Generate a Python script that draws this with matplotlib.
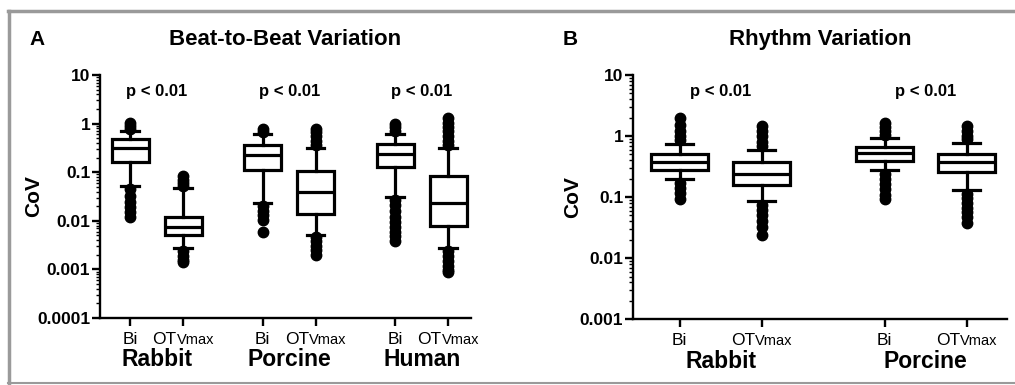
import matplotlib
matplotlib.use("Agg")
import matplotlib.pyplot as plt
from matplotlib.ticker import LogLocator, NullFormatter, FixedLocator, FixedFormatter
from matplotlib.lines import Line2D

plt.rcParams['font.family'] = ['Liberation Sans', 'DejaVu Sans']

# ---- Panel A: Beat-to-Beat Variation (Rabbit, Porcine, Human; Bi vs OTVmax)
a_species = ["Rabbit", "Porcine", "Human"]
a_pos = [0, 1, 2.5, 3.5, 5, 6]
a_med = [0.31, 0.0075, 0.23, 0.039, 0.24, 0.023]
a_q1 = [0.16, 0.0052, 0.11, 0.014, 0.127, 0.0079]
a_q3 = [0.49, 0.012, 0.37, 0.105, 0.39, 0.083]
a_whislo = [0.051, 0.0027, 0.023, 0.0052, 0.031, 0.0028]
a_whishi = [0.69, 0.047, 0.62, 0.32, 0.62, 0.31]
a_fliers = [
    [0.045, 0.033, 0.025, 0.019, 0.015, 0.012, 0.78, 0.9, 1.05],
    [0.0024, 0.0019, 0.0016, 0.00145, 0.052, 0.06, 0.07, 0.082],
    [0.02, 0.016, 0.013, 0.0105, 0.006, 0.68, 0.79],
    [0.0046, 0.0038, 0.0031, 0.0025, 0.002, 0.36, 0.45, 0.56, 0.68, 0.79],
    [0.027, 0.021, 0.016, 0.012, 0.0095, 0.0075, 0.006, 0.0048, 0.0039, 0.7, 0.85, 1.0],
    [0.0024, 0.0019, 0.0015, 0.0012, 0.00098, 0.00087, 0.36, 0.45, 0.56, 0.7, 0.87, 1.05, 1.33],
]

# ---- Panel B: Rhythm Variation (Rabbit, Porcine; Bi vs OTVmax)
b_species = ["Rabbit", "Porcine"]
b_pos = [0, 1, 2.5, 3.5]
b_med = [0.375, 0.238, 0.53, 0.375]
b_q1 = [0.277, 0.157, 0.39, 0.257]
b_q3 = [0.51, 0.375, 0.66, 0.51]
b_whislo = [0.197, 0.086, 0.277, 0.13]
b_whishi = [0.74, 0.59, 0.93, 0.77]
b_fliers = [
    [0.17, 0.14, 0.115, 0.093, 0.85, 1.0, 1.2, 1.5, 1.97],
    [0.075, 0.062, 0.05, 0.04, 0.032, 0.024, 0.68, 0.8, 1.0, 1.2, 1.46],
    [0.24, 0.2, 0.165, 0.135, 0.11, 0.093, 1.05, 1.2, 1.4, 1.65],
    [0.112, 0.095, 0.08, 0.067, 0.056, 0.047, 0.037, 0.88, 1.0, 1.2, 1.46],
]

tick_names = ["Bi", "OT"]


def make_stats(med, q1, q3, lo, hi, fliers):
    return [dict(med=m, q1=a, q3=b, whislo=l, whishi=h, fliers=f)
            for m, a, b, l, h, f in zip(med, q1, q3, lo, hi, fliers)]


def draw_panel(ax, stats, pos, species, ylim, title, letter, letter_x, xright, ylab_x):
    ax.bxp(stats, positions=pos, widths=0.7, patch_artist=True, showcaps=True,
           boxprops=dict(facecolor='white', edgecolor='black', linewidth=2.3),
           medianprops=dict(color='black', linewidth=2.3),
           whiskerprops=dict(color='black', linewidth=2.3),
           capprops=dict(color='black', linewidth=2.3),
           capwidths=0.33,
           flierprops=dict(marker='o', markerfacecolor='black', markeredgecolor='black',
                           markersize=7.5, linestyle='none'))
    ax.set_yscale('log')
    ax.set_ylim(*ylim)
    ax.set_xlim(pos[0] - 0.57, xright)
    for s in ['top', 'right']:
        ax.spines[s].set_visible(False)
    for s in ['left', 'bottom']:
        ax.spines[s].set_linewidth(1.7)
    decades = []
    v = ylim[0]
    while v <= ylim[1] * 1.01:
        decades.append(v)
        v *= 10
    ax.yaxis.set_major_locator(FixedLocator(decades))
    ax.yaxis.set_major_formatter(FixedFormatter(['%g' % d if d >= 1e-3 else '0.0001' for d in decades]))
    ax.yaxis.set_minor_locator(LogLocator(base=10, subs=range(2, 10), numticks=20))
    ax.yaxis.set_minor_formatter(NullFormatter())
    ax.tick_params(axis='y', which='major', length=6, width=1.7, labelsize=12.5, pad=1)
    ax.tick_params(axis='y', which='minor', length=3, width=1.0)
    for lab in ax.get_yticklabels():
        lab.set_fontweight('bold')
    ax.set_xticks(pos)
    ax.set_xticklabels([])
    ax.tick_params(axis='x', length=6, width=1.7)
    ax.set_ylabel('CoV', fontsize=15, fontweight='bold')
    ax.yaxis.set_label_coords(ylab_x, 0.5)

    tr = ax.get_xaxis_transform()
    for i, p in enumerate(pos):
        if i % 2 == 0:
            ax.text(p, -0.106, tick_names[0], transform=tr, ha='center', va='baseline', fontsize=12.5)
        else:
            ax.annotate(tick_names[1], xy=(p, -0.106), xycoords=tr, xytext=(-4.7, 0),
                        textcoords='offset points', ha='right', va='baseline', fontsize=12.5)
            ax.annotate('Vmax', xy=(p, -0.106), xycoords=tr, xytext=(-4.7, 0),
                        textcoords='offset points', ha='left', va='baseline', fontsize=10.5)
    for k, sp in enumerate(species):
        xc = (pos[2 * k] + pos[2 * k + 1]) / 2
        ax.text(xc, -0.172, sp, transform=tr, ha='center', va='center',
                fontsize=16.5, fontweight='bold')
        ax.text(xc, 0.934, 'p < 0.01', transform=tr, ha='center', va='center',
                fontsize=12, fontweight='bold')
    ax.text(0.5, 1.123, title, transform=ax.transAxes, ha='center', va='baseline',
            fontsize=16, fontweight='bold')
    ax.figure.text(letter_x, 0.897, letter, fontsize=15, fontweight='bold', ha='left', va='center')


fig = plt.figure(figsize=(10.15, 3.85), dpi=100)
axA = fig.add_axes([0.0985, 0.174, 0.3655, 0.631])
axB = fig.add_axes([0.6236, 0.171, 0.3684, 0.634])

draw_panel(axA, make_stats(a_med, a_q1, a_q3, a_whislo, a_whishi, a_fliers),
           a_pos, a_species, (1e-4, 10), 'Beat-to-Beat Variation', 'A', 0.029, 6.43, -0.154)
draw_panel(axB, make_stats(b_med, b_q1, b_q3, b_whislo, b_whishi, b_fliers),
           b_pos, b_species, (1e-3, 10), 'Rhythm Variation', 'B', 0.5547, 3.99, -0.136)

# gray frame around the figure
gray = '#9a9a9a'
fig.add_artist(Line2D([0.008, 1.0], [1 - 11 / 385] * 2, color=gray, lw=2.5, transform=fig.transFigure))
fig.add_artist(Line2D([0.009, 0.009], [1 - 11 / 385, 1 - 383 / 385], color=gray, lw=2.5, transform=fig.transFigure))
fig.add_artist(Line2D([0.008, 1.0], [1 - 383 / 385] * 2, color=gray, lw=1.5, transform=fig.transFigure))

fig.savefig('out.png', dpi=100)
